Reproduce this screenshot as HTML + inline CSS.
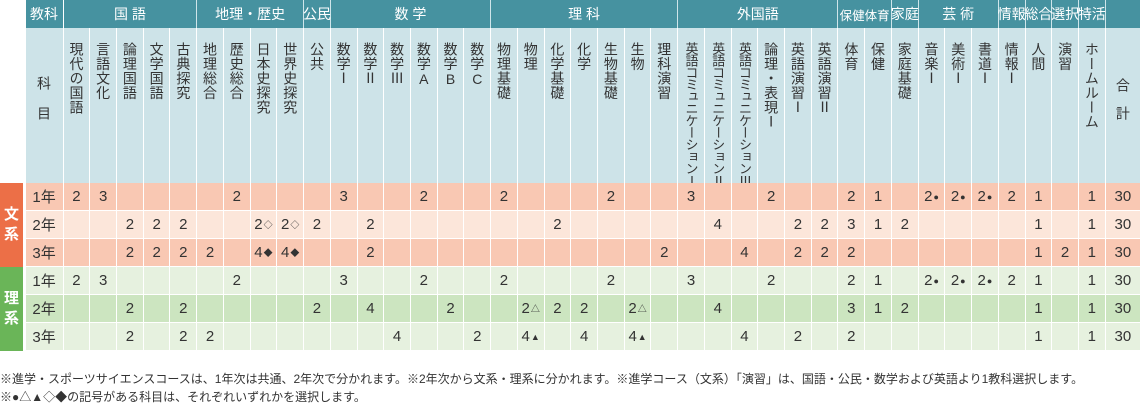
<!DOCTYPE html>
<html lang="ja"><head><meta charset="utf-8">
<style>
*{margin:0;padding:0;box-sizing:border-box}
body{width:1140px;height:410px;background:#fff;position:relative;overflow:hidden;font-family:"Liberation Sans","Noto Sans CJK JP",sans-serif;color:#333}
.c{position:absolute;display:flex;align-items:center;justify-content:center}
.vt{writing-mode:vertical-rl;text-orientation:upright;font-size:14px;line-height:1;position:absolute;top:42px;letter-spacing:0.5px}
.num{font-size:15px}
sup{font-size:9px;vertical-align:7px;margin-left:1px}
.note{position:absolute;left:0;font-size:12px;white-space:nowrap;color:#333}
</style></head><body>
<div id="root"></div>
<div class="note" style="top:370px">※進学・スポーツサイエンスコースは、1年次は共通、2年次で分かれます。※2年次から文系・理系に分かれます。※進学コース（文系）「演習」は、国語・公民・数学および英語より1教科選択します。</div>
<div class="note" style="top:388px">※●△▲◇◆の記号がある科目は、それぞれいずれかを選択します。</div>
<script>
const subjects=["現代の国語","言語文化","論理国語","文学国語","古典探究","地理総合","歴史総合","日本史探究","世界史探究","公共","数学Ⅰ","数学Ⅱ","数学Ⅲ","数学A","数学B","数学C","物理基礎","物理","化学基礎","化学","生物基礎","生物","理科演習","英語コミュニケーションⅠ","英語コミュニケーションⅡ","英語コミュニケーションⅢ","論理・表現Ⅰ","英語演習Ⅰ","英語演習Ⅱ","体育","保健","家庭基礎","音楽Ⅰ","美術Ⅰ","書道Ⅰ","情報Ⅰ","人間","演習","ホームルーム"];
const groups=[["国 語",5],["地理・歴史",4],["公民",1],["数 学",6],["理 科",7],["外国語",6],["保健体育",2],["家庭",1],["芸 術",3],["情報",1],["総合",1],["選択",1],["特活",1]];
const rowLabels=["1年","2年","3年","1年","2年","3年"];
const totals=["30","30","30","30","30","30"];
const r1=[["0","2"],["1","3"],["6","2"],["10","3"],["13","2"],["16","2"],["20","2"],["23","3"],["26","2"],["29","2"],["30","1"],["32","2●"],["33","2●"],["34","2●"],["35","2"],["36","1"],["38","1"]];
const bun2=[["2","2"],["3","2"],["4","2"],["7","2◇"],["8","2◇"],["9","2"],["11","2"],["18","2"],["24","4"],["27","2"],["28","2"],["29","3"],["30","1"],["31","2"],["36","1"],["38","1"]];
const bun3=[["2","2"],["3","2"],["4","2"],["5","2"],["7","4◆"],["8","4◆"],["11","2"],["22","2"],["25","4"],["27","2"],["28","2"],["29","2"],["36","1"],["37","2"],["38","1"]];
const ri2=[["2","2"],["4","2"],["9","2"],["11","4"],["14","2"],["17","2△"],["18","2"],["19","2"],["21","2△"],["24","4"],["29","3"],["30","1"],["31","2"],["36","1"],["38","1"]];
const ri3=[["2","2"],["4","2"],["5","2"],["12","4"],["15","2"],["17","4▲"],["19","4"],["21","4▲"],["25","4"],["27","2"],["29","2"],["36","1"],["38","1"]];
const rowData=[r1,bun2,bun3,r1,ri2,ri3];

const root=document.getElementById('root');
const X0=63.6,CW=26.72,XT=X0+CW*39;
const colX=i=>X0+CW*i;
const rowY=[183,211,239,267,295,323,351];
const rowBg=["#f9c8b3","#fce6da","#f9c8b3","#e6f1df","#cce5c0","#e6f1df"];
function box(x,y,w,h,bg,txt,color){
  const d=document.createElement('div');d.className='c';
  d.style.cssText+=`left:${x}px;top:${y}px;width:${w}px;height:${h}px;background:${bg};color:${color||'#333'}`;
  if(txt!=null)d.innerHTML=txt;root.appendChild(d);return d;
}
// header row 1
let h=box(0,0,25.5,28,"#fff");


h=box(25.5,0,38.1,28,"#4692a0","教科","#fff");h.style.fontSize="14px";h.style.borderRight="1px solid #fff";


let gi=0;
groups.forEach(g=>{
  const x=colX(gi),w=CW*g[1];
  const d=box(x,0,w,28,"#4692a0",g[0],"#fff");
  d.style.fontSize=(g[0].length>=4&&g[1]<=2)?"12.5px":"14px";
  d.style.borderRight="1px solid #cfe5ea";d.style.whiteSpace="nowrap";
  
  
  gi+=g[1];
});
h=box(XT,0,1140-XT,28,"#4692a0");


// header row 2
h=box(25.5,28,38.1,155,"#cde3e8","");h.style.borderRight="1px solid #fff";


h.innerHTML='<span style="writing-mode:vertical-rl;font-size:14px;letter-spacing:16px">科目</span>';
subjects.forEach((s,i)=>{
  const d=box(colX(i),28,CW,155,"#cde3e8");d.style.borderRight="1px solid #fff";d.style.alignItems="flex-start";
  
  
  const t=document.createElement('span');t.className='vt';t.style.top='14px';t.style.position='relative';
  t.textContent=s;if(s.length>8){t.style.fontSize='13px';t.style.letterSpacing='-1px';}
  d.appendChild(t);
});
h=box(XT,28,1140-XT,155,"#cde3e8");


h.innerHTML='<span style="writing-mode:vertical-rl;font-size:14px;letter-spacing:14px">合計</span>';
// side labels
h=box(0,183,23,84,"#ec6f47","文<br>系","#fff");h.style.fontSize="15px";h.style.lineHeight="20px";h.style.fontWeight="bold";


h=box(0,267,23,84,"#6ab558","理<br>系","#fff");h.style.fontSize="15px";h.style.lineHeight="20px";h.style.fontWeight="bold";


// data rows
rowLabels.forEach((lab,r)=>{
  const y=rowY[r],hh=rowY[r+1]-y;
  const bg=rowBg[r];
  let d=box(25.5,y,38.1,hh,bg,lab);d.style.fontSize="15px";d.style.borderRight="1px solid #fff";d.style.borderBottom="1px solid #fff";
  
  
  const map={};rowData[r].forEach(p=>map[+p[0]]=p[1]);
  for(let i=0;i<39;i++){
    let v=map[i]||"";
    if(v.length>1)v=v[0]+'<sup>'+v.slice(1)+'</sup>';
    const c=box(colX(i),y,CW,hh,bg,v);c.className+=' num';
    c.style.borderRight="1px solid #fff";c.style.borderBottom="1px solid #fff";
    
    
  }
  d=box(XT,y,1140-XT,hh,bg,totals[r]);d.className+=' num';d.style.borderBottom="1px solid #fff";
  
  
});
</script>
</body></html>
